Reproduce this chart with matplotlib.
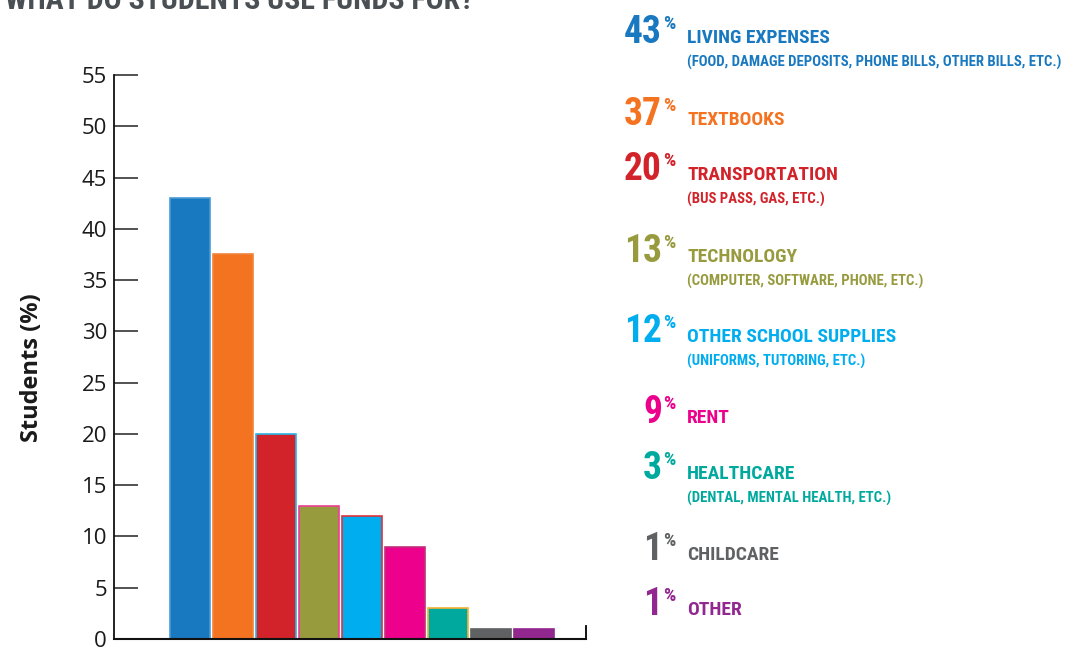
import matplotlib
matplotlib.use("Agg")
import matplotlib.pyplot as plt
from matplotlib import font_manager

# ---------------- data ----------------
categories = ["", "LIVING EXPENSES", "TEXTBOOKS", "TRANSPORTATION", "TECHNOLOGY",
              "OTHER SCHOOL SUPPLIES", "RENT", "HEALTHCARE", "CHILDCARE", "OTHER", ""]
values = [0, 43, 37.5, 20, 13, 12, 9, 3, 1, 1, 0]
bar_colors = ["#333333", "#1878c0", "#f47321", "#d2232a", "#979b3e", "#00adef",
              "#ec008c", "#00a99d", "#606163", "#92278f", "#92278f"]
edge_colors = ["#333333", "#4a9ad6", "#f0843c", "#29b6e8", "#ee3d96", "#e0323c",
               "#c0307a", "#f5b335", "#606163", "#92278f", "#92278f"]

legend_pct = ["43", "37", "20", "13", "12", "9", "3", "1", "1"]
legend_names = ["LIVING EXPENSES", "TEXTBOOKS", "TRANSPORTATION", "TECHNOLOGY",
                "OTHER SCHOOL SUPPLIES", "RENT", "HEALTHCARE", "CHILDCARE", "OTHER"]
legend_subs = ["(FOOD, DAMAGE DEPOSITS, PHONE BILLS, OTHER BILLS, ETC.)", "",
               "(BUS PASS, GAS, ETC.)", "(COMPUTER, SOFTWARE, PHONE, ETC.)",
               "(UNIFORMS, TUTORING, ETC.)", "", "(DENTAL, MENTAL HEALTH, ETC.)", "", ""]
legend_colors = ["#1878c0", "#f47321", "#d2232a", "#979b3e", "#00adef",
                 "#ec008c", "#00a99d", "#606163", "#92278f"]
yticks = [0, 5, 10, 15, 20, 25, 30, 35, 40, 45, 50, 55]
title = "WHAT DO STUDENTS USE FUNDS FOR?"

# ---------------- fonts ----------------
names = {f.name for f in font_manager.fontManager.ttflist}
cond_family = "DejaVu Sans"
for cand in ["Roboto Condensed", "Liberation Sans Narrow", "DejaVu Sans Condensed"]:
    if cand in names:
        cond_family = cand
        break
main_family = "Open Sans" if "Open Sans" in names else "DejaVu Sans"

W, H = 1065, 650
fig = plt.figure(figsize=(W / 100, H / 100), dpi=100)
fig.patch.set_facecolor("white")

def fx(px):
    return px / W

def fy(py):
    return 1 - py / H

ax = fig.add_axes([fx(114), fy(639), fx(586) - fx(114), fy(75) - fy(639)])
x = list(range(len(values)))
ax.bar(x, values, width=0.93, color=bar_colors, edgecolor=edge_colors, linewidth=1.2,
       zorder=2)
ax.set_xlim(-0.767, 10.21)
ax.set_ylim(0, 55)
ax.set_yticks(yticks)
ax.set_yticklabels([str(t) for t in yticks], fontsize=16, family=main_family,
                   color="#1a1a1a")
ax.set_xticks([])
ax.tick_params(axis="y", direction="in", length=17, width=1.3, color="#444444", pad=5)
ax.spines["top"].set_visible(False)
ax.spines["left"].set_linewidth(1.3)
ax.spines["bottom"].set_linewidth(1.5)
ax.spines["right"].set_linewidth(1.3)
ax.spines["right"].set_bounds(0, 1.3)
ax.spines["left"].set_color("#111111")
ax.spines["bottom"].set_color("#111111")

fig.text(fx(32), fy(368), "Students (%)", rotation=90, ha="center", va="center",
         fontsize=17, fontweight="bold", family=main_family, color="#1a1a1a")

# title (cropped at top, as in the reference)
fig.text(fx(5), fy(9), title, ha="left", va="baseline", fontsize=21.5,
         fontweight="bold", family=cond_family, color="#4a4f53")

# legend on the right
baselines = [43, 125, 180, 262, 342, 423, 479, 560, 615]
for pct, name, sub, col, b in zip(legend_pct, legend_names, legend_subs,
                                  legend_colors, baselines):
    fig.text(fx(662), fy(b), pct, ha="right", va="baseline", fontsize=27,
             fontweight="bold", family=cond_family, color=col)
    fig.text(fx(663), fy(b - 14), "%", ha="left", va="baseline", fontsize=14,
             fontweight="bold", family=cond_family, color=col)
    fig.text(fx(687), fy(b), name, ha="left", va="baseline", fontsize=14,
             fontweight="bold", family=cond_family, color=col)
    if sub:
        fig.text(fx(687), fy(b + 24), sub, ha="left", va="baseline", fontsize=10.6,
                 fontweight="bold", family=cond_family, color=col)

fig.savefig("out.png", dpi=100, facecolor="white")
